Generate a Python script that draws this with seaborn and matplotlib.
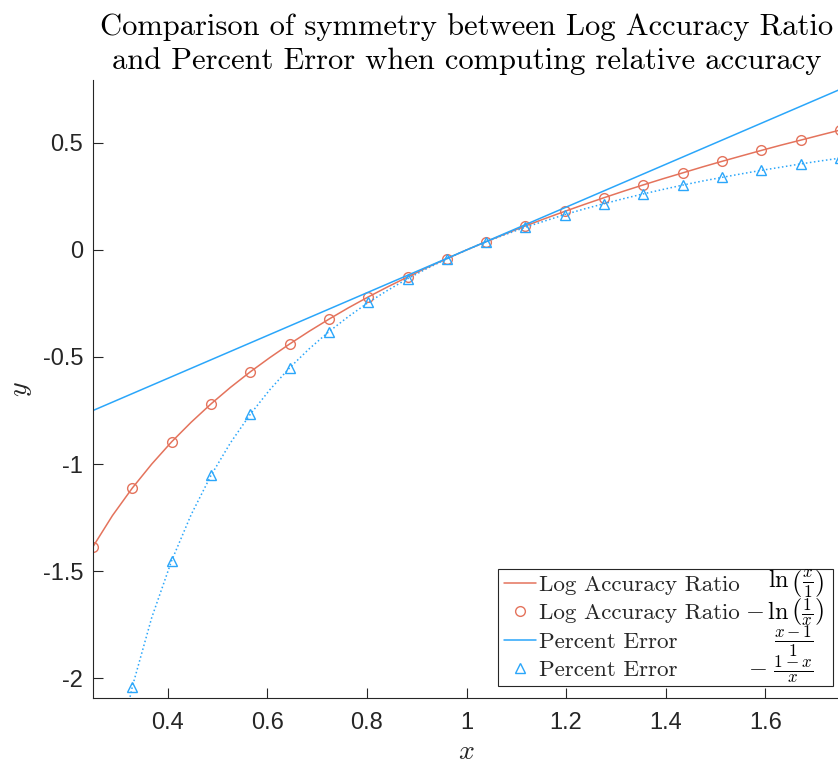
import matplotlib
matplotlib.use("Agg")
import matplotlib.pyplot as plt
from matplotlib.transforms import IdentityTransform
import seaborn as sns

# Dense samples of the two curves (x, ln x, and -(1-x)/x)
x_line = [0.250, 0.289, 0.329, 0.368, 0.408, 0.447, 0.487, 0.526, 0.566, 0.605,
          0.645, 0.684, 0.724, 0.763, 0.803, 0.842, 0.882, 0.921, 0.961, 1.000,
          1.039, 1.079, 1.118, 1.158, 1.197, 1.237, 1.276, 1.316, 1.355, 1.395,
          1.434, 1.474, 1.513, 1.553, 1.592, 1.632, 1.671, 1.711, 1.750]
log_ratio_line = [-1.386, -1.241, -1.112, -1.000, -0.896, -0.805, -0.719, -0.642, -0.569, -0.503,
                  -0.439, -0.380, -0.323, -0.270, -0.219, -0.172, -0.126, -0.082, -0.040, 0.000,
                  0.038, 0.076, 0.112, 0.147, 0.180, 0.213, 0.244, 0.275, 0.304, 0.333,
                  0.360, 0.388, 0.414, 0.440, 0.465, 0.490, 0.513, 0.537, 0.560]
pct_error_inv_line = [-3.000, -2.460, -2.040, -1.717, -1.451, -1.237, -1.053, -0.901, -0.767, -0.653,
                      -0.550, -0.462, -0.381, -0.311, -0.245, -0.188, -0.134, -0.086, -0.041, 0.000,
                      0.038, 0.073, 0.106, 0.136, 0.165, 0.192, 0.216, 0.240, 0.262, 0.283,
                      0.303, 0.322, 0.339, 0.356, 0.372, 0.387, 0.402, 0.416, 0.429]

# Marker samples
x_markers = [0.250, 0.329, 0.408, 0.487, 0.566, 0.645, 0.724, 0.803, 0.882, 0.961,
             1.039, 1.118, 1.197, 1.276, 1.355, 1.434, 1.513, 1.592, 1.671, 1.750]
log_ratio_markers = [-1.386, -1.112, -0.896, -0.719, -0.569, -0.439, -0.323, -0.219, -0.126, -0.040,
                     0.038, 0.112, 0.180, 0.244, 0.304, 0.360, 0.414, 0.465, 0.513, 0.560]
pct_error_markers = [-3.000, -2.040, -1.451, -1.053, -0.767, -0.550, -0.381, -0.245, -0.134, -0.041,
                     0.038, 0.106, 0.165, 0.216, 0.262, 0.303, 0.339, 0.372, 0.402, 0.429]

# Straight percent-error line (x - 1) / 1
pct_error_x = [0.25, 1.75]
pct_error_y = [-0.75, 0.75]

series_names = ["Log Accuracy Ratio", "Log Accuracy Ratio", "Percent Error", "Percent Error"]
formulas = [r"$\ln\left(\frac{x}{1}\right)$", r"$-\,\ln\left(\frac{1}{x}\right)$",
            r"$\frac{x-1}{1}$", r"$-\ \frac{1-x}{x}$"]

x_ticks = [0.4, 0.6, 0.8, 1.0, 1.2, 1.4, 1.6]
x_tick_labels = ["0.4", "0.6", "0.8", "1", "1.2", "1.4", "1.6"]
y_ticks = [-2, -1.5, -1, -0.5, 0, 0.5]
y_tick_labels = ["-2", "-1.5", "-1", "-0.5", "0", "0.5"]

title = ("Comparison of symmetry between Log Accuracy Ratio\n"
         "and Percent Error when computing relative accuracy")

RED = "#E4735C"
BLUE = "#2AA6FA"
AXC = (0.15, 0.15, 0.15)
LEG_SIZE = 16.6
FORMULA_SIZE = 17.5

sns.set_theme(style="ticks")
plt.rcParams["mathtext.fontset"] = "cm"
plt.rcParams["font.family"] = ["Liberation Sans", "DejaVu Sans"]

W, H = 838, 767
fig = plt.figure(figsize=(W / 100, H / 100), dpi=100)
ax = fig.add_axes([93 / W, 69 / H, 747 / W, 618 / H])

sns.lineplot(x=x_line, y=log_ratio_line, ax=ax, color=RED, linewidth=1.1,
             estimator=None, sort=False, legend=False)
sns.lineplot(x=x_markers, y=log_ratio_markers, ax=ax, color=RED, linestyle="none",
             marker="o", markersize=7, markerfacecolor="none", markeredgecolor=RED,
             markeredgewidth=1.0, estimator=None, sort=False, legend=False)
sns.lineplot(x=pct_error_x, y=pct_error_y, ax=ax, color=BLUE, linewidth=1.1,
             estimator=None, sort=False, legend=False)
sns.lineplot(x=x_line, y=pct_error_inv_line, ax=ax, color=BLUE, linewidth=1.1,
             linestyle=":", estimator=None, sort=False, legend=False)
sns.lineplot(x=x_markers, y=pct_error_markers, ax=ax, color=BLUE, linestyle="none",
             marker="^", markersize=7, markerfacecolor="none", markeredgecolor=BLUE,
             markeredgewidth=1.0, estimator=None, sort=False, legend=False)

ax.set_xlim(0.25, 1.75)
ax.set_ylim(-2.093, 0.794)
ax.set_xticks(x_ticks)
ax.set_xticklabels(x_tick_labels)
ax.set_yticks(y_ticks)
ax.set_yticklabels(y_tick_labels)
ax.tick_params(direction="in", length=7, width=0.8, color=AXC, labelcolor=AXC,
               labelsize=17)
ax.tick_params(axis="x", pad=10)
ax.tick_params(axis="y", pad=7)
for side in ("top", "right"):
    ax.spines[side].set_visible(False)
for side in ("left", "bottom"):
    ax.spines[side].set_color(AXC)
    ax.spines[side].set_linewidth(0.8)

ax.set_title(title, fontfamily="cmr10", fontsize=22, linespacing=1.28, pad=8, color="black")
ax.set_xlabel(r"$x$", fontsize=20, labelpad=4)
ax.set_ylabel(r"$y$", fontsize=20, labelpad=6)

lines = ax.get_lines()
handles = [lines[0], lines[1], lines[2], lines[4]]
leg = ax.legend(handles, series_names, loc="lower left",
                bbox_to_anchor=(0.542, 0.0194, 0.449, 0.2), mode="expand",
                borderaxespad=0, borderpad=0.25, handlelength=1.4, handletextpad=0.15,
                labelspacing=0.36, fancybox=False, framealpha=1,
                prop={"family": "cmr10", "size": LEG_SIZE})
leg.get_frame().set_edgecolor(AXC)
leg.get_frame().set_linewidth(0.8)

fig.canvas.draw()
renderer = fig.canvas.get_renderer()
frame_bb = leg.get_frame().get_window_extent(renderer)
offsets = [9, 9, 20, 20]
for txt, formula, off in zip(leg.get_texts(), formulas, offsets):
    bb = txt.get_window_extent(renderer)
    fig.text(frame_bb.x1 - off, (bb.y0 + bb.y1) / 2 + 1, formula, transform=IdentityTransform(),
             ha="right", va="center", fontsize=FORMULA_SIZE, color="black")

fig.savefig("out.png", dpi=100)
